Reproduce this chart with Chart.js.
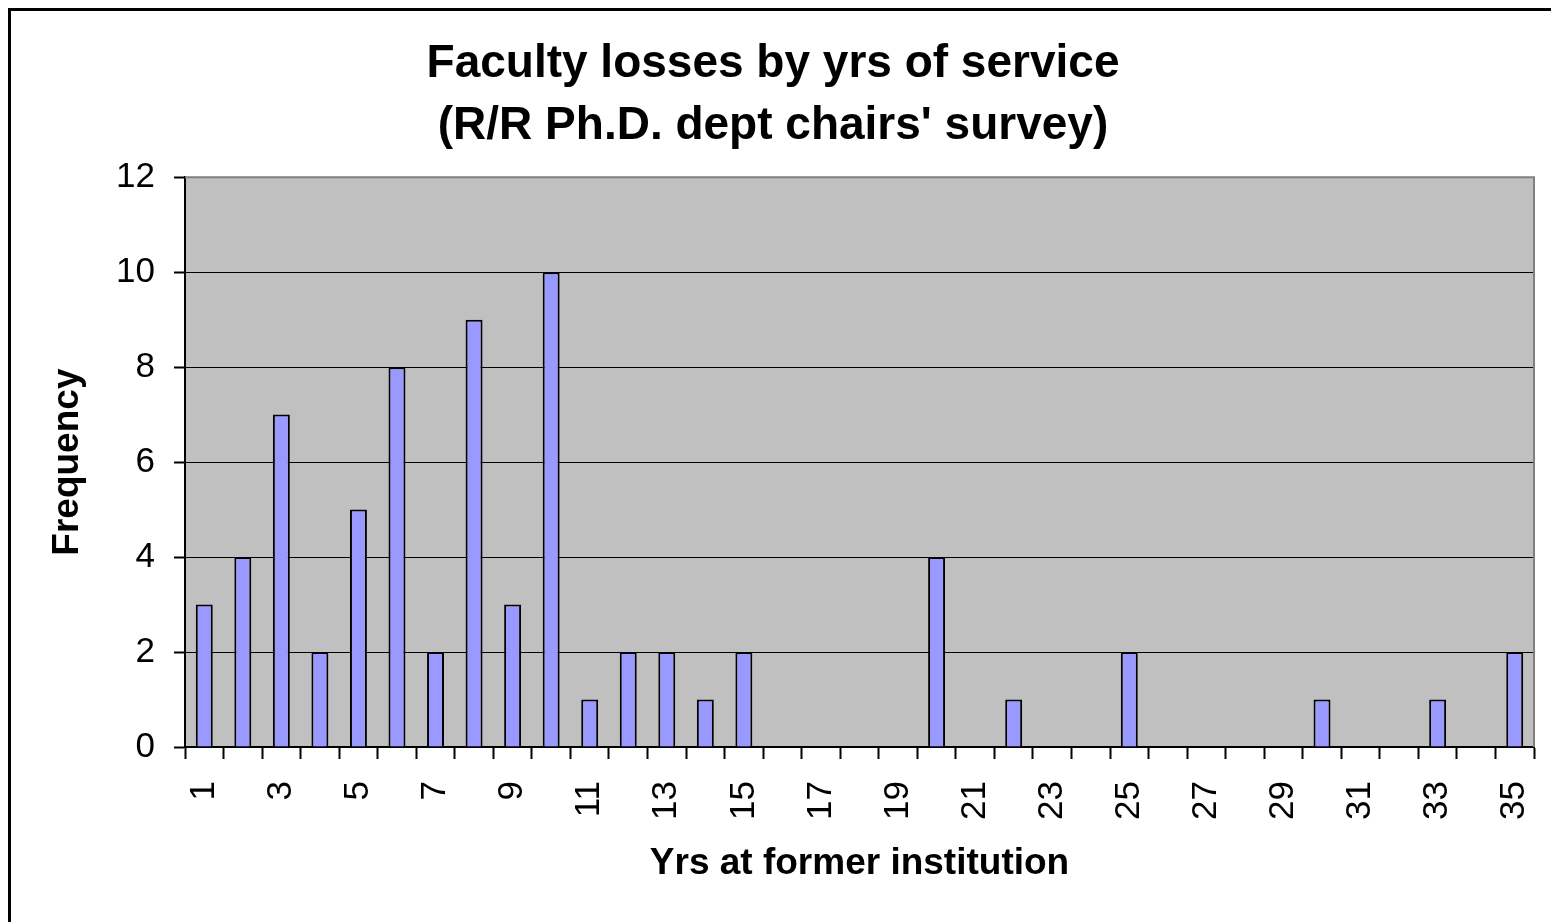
<!DOCTYPE html>
<html>
<head>
<meta charset="utf-8">
<title>Faculty losses by yrs of service</title>
<script src="https://cdn.jsdelivr.net/npm/chart.js@4.4.0/dist/chart.umd.min.js"></script>
<style>
    body{margin:0;background:#fff;}
    #myChart{display:block;}
</style>
</head>
<body>
<canvas id="myChart" width="1551" height="922"></canvas>
<script>
var years=['1','2','3','4','5','6','7','8','9','10','11','12','13','14','15','16','17','18',
    '19','20','21','22','23','24','25','26','27','28','29','30','31','32','33','34','35']
var frequency=[3,4,7,2,5,8,2,9,3,10,1,2,2,1,2,0,0,0,0,4,0,1,0,0,2,0,0,0,0,1,0,0,1,0,2]
var xTickLabels=['1','3','5','7','9','11','13','15','17','19','21','23','25','27','29','31','33','35']
var yTicks=[0,2,4,6,8,10,12]

var font="'Liberation Sans', Arial, sans-serif"

var plotFrame={
    id:'plotFrame',
    beforeDraw:function(chart){
        var ctx=chart.ctx
        var a=chart.chartArea
        ctx.save()
        ctx.fillStyle="#ffffff"
        ctx.fillRect(0,0,chart.width,chart.height)
        ctx.fillStyle="#000000"
        ctx.fillRect(8,8,3,chart.height)
        ctx.fillRect(8,8,chart.width,3)
        ctx.fillStyle="#c0c0c0"
        ctx.fillRect(a.left,a.top,a.right-a.left,a.bottom-a.top)
        ctx.restore()
    },
    afterDraw:function(chart){
        var ctx=chart.ctx
        var a=chart.chartArea
        ctx.save()
        ctx.strokeStyle="#808080"
        ctx.lineWidth=2
        ctx.beginPath()
        ctx.moveTo(a.left,a.top)
        ctx.lineTo(a.right,a.top)
        ctx.lineTo(a.right,a.bottom)
        ctx.stroke()
        ctx.restore()
    }
}

var myChart=document.getElementById("myChart").getContext('2d')

var chart=new Chart(myChart,{
    type:'bar',
    data:{
        labels:years,
        datasets:[
            {
                label:"Frequency",
                data:frequency,
                backgroundColor:"#9999ff",
                borderColor:"#000000",
                borderWidth:2,
                barPercentage:0.44,
                categoryPercentage:1.0
            }
        ]
    },
    options:{
        responsive:false,
        animation:false,
        devicePixelRatio:1,
        layout:{padding:{left:12,right:17,top:0,bottom:0}},
        plugins:{
            legend:{display:false},
            tooltip:{enabled:false},
            title:{
                display:true,
                text:["Faculty losses by yrs of service","(R/R Ph.D. dept chairs' survey)"],
                color:"#000",
                font:{family:font,size:46,weight:'bold',lineHeight:1.35},
                padding:{top:33,bottom:20}
            }
        },
        scales:{
            x:{
                grid:{
                    offset:true,
                    drawOnChartArea:false,
                    drawTicks:true,
                    tickLength:12,
                    tickColor:"#000",
                    tickWidth:2
                },
                border:{display:true,color:"#000",width:2},
                ticks:{
                    autoSkip:false,
                    minRotation:90,
                    maxRotation:90,
                    padding:22,
                    color:"#000",
                    font:{family:font,size:35,lineHeight:1},
                    callback:function(value){
                        var lab=this.getLabelForValue(value)
                        return xTickLabels.indexOf(lab)>=0 ? lab : ''
                    }
                },
                title:{
                    display:true,
                    text:"Yrs at former institution",
                    color:"#000",
                    font:{family:font,size:37,weight:'bold'},
                    padding:{top:0,bottom:36}
                },
                afterFit:function(scale){
                    scale.height=175
                    scale.paddingLeft=0
                    scale.paddingRight=0
                }
            },
            y:{
                min:0,
                max:12,
                afterBuildTicks:function(scale){
                    scale.ticks=yTicks.map(function(v){ return {value:v} })
                },
                grid:{
                    color:function(c){ return c.tick && c.tick.value===12 ? 'rgba(0,0,0,0)' : '#000' },
                    lineWidth:1,
                    drawTicks:true,
                    tickLength:11,
                    tickColor:"#000",
                    tickWidth:2
                },
                border:{display:true,color:"#000",width:2},
                ticks:{
                    padding:19,
                    color:"#000",
                    font:{family:font,size:35}
                },
                title:{
                    display:true,
                    text:"Frequency",
                    color:"#000",
                    font:{family:font,size:37,weight:'bold'},
                    padding:{top:34,bottom:0}
                },
                afterFit:function(scale){ scale.width=173 }
            }
        }
    },
    plugins:[plotFrame]
})
</script>
</body>
</html>
